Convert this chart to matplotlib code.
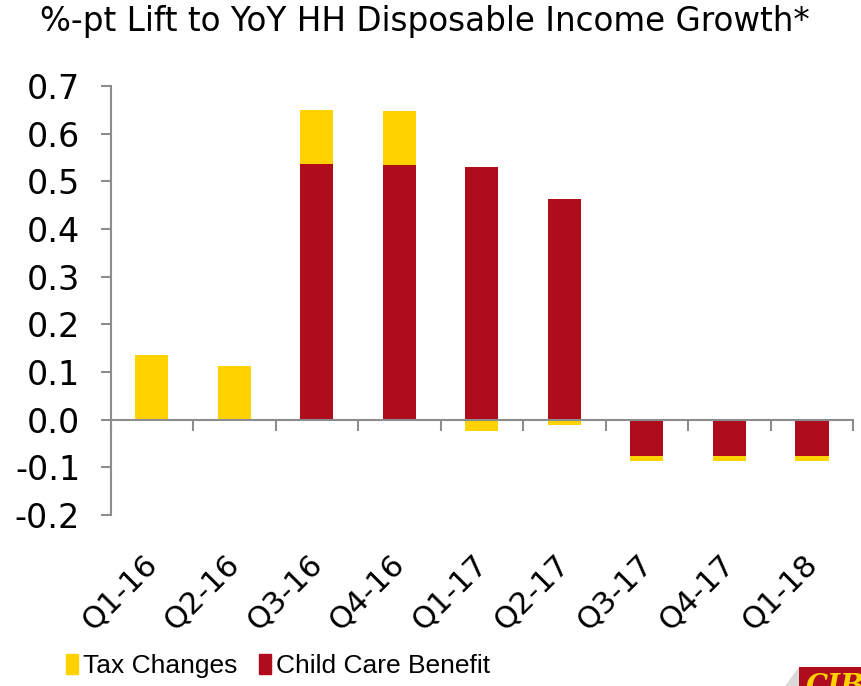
import numpy as np
import matplotlib.pyplot as plt
from matplotlib.patches import Patch, Rectangle, Polygon
from matplotlib.transforms import ScaledTranslation

# values
quarters = ["Q1-16", "Q2-16", "Q3-16", "Q4-16", "Q1-17", "Q2-17", "Q3-17", "Q4-17", "Q1-18"]
child_care = [0.0, 0.0, 0.537, 0.534, 0.531, 0.464, -0.076, -0.076, -0.076]
tax_changes = [0.135, 0.112, 0.113, 0.113, -0.023, -0.011, -0.011, -0.011, -0.011]
y_ticks = [-0.2, -0.1, 0.0, 0.1, 0.2, 0.3, 0.4, 0.5, 0.6, 0.7]

yellow = "#FFD200"
red = "#AF0D1E"
grey = "#8C8C8C"

fig = plt.figure(figsize=(8.61, 6.86), dpi=100)
ax = fig.add_axes([0.1286, 0.2493, 0.8624, 0.6253])

x = np.arange(len(quarters))
cc = np.array(child_care)
tx = np.array(tax_changes)

# child care drawn from zero; tax stacked on the same side
ax.bar(x, cc, width=0.4, color=red, zorder=2)
tax_bottom = np.where(np.sign(tx) == np.sign(cc), cc, 0.0)
ax.bar(x, tx, width=0.4, bottom=tax_bottom, color=yellow, zorder=2)

ax.set_xlim(-0.5, len(quarters) - 0.5)
ax.set_ylim(-0.2, 0.7)
ax.set_yticks(y_ticks)
ax.set_yticklabels([f"{v:.1f}" for v in y_ticks])
ax.tick_params(axis="y", labelsize=24, length=7, width=1.5, color=grey, pad=15)

# x axis sits on zero, ticks at category boundaries
for s in ["top", "right"]:
    ax.spines[s].set_visible(False)
ax.spines["left"].set_color(grey)
ax.spines["left"].set_linewidth(1.5)
ax.spines["bottom"].set_position(("data", 0))
ax.spines["bottom"].set_color(grey)
ax.spines["bottom"].set_linewidth(1.5)
ax.set_xticks(np.arange(-0.5, len(quarters), 1.0))
ax.set_xticklabels([])
ax.tick_params(axis="x", length=8, width=1.5, color=grey, direction="out")

# category labels below the plot area
lab_tr = ax.get_xaxis_transform() + ScaledTranslation(-0.10, -0.34, fig.dpi_scale_trans)
for i, q in enumerate(quarters):
    ax.text(i, 0, q, transform=lab_tr, rotation=45, ha="right", va="top",
            rotation_mode="anchor", fontsize=22)

fig.text(0.494, 0.968, "%-pt Lift to YoY HH Disposable Income Growth*",
         ha="center", va="center", fontsize=23.5)

handles = [Patch(color=yellow, label="Tax Changes"),
           Patch(color=red, label="Child Care Benefit")]
fig.legend(handles=handles, loc="center left", bbox_to_anchor=(66 / 861, 1 - 666 / 686),
           ncol=2, frameon=False, borderpad=0, borderaxespad=0,
           prop={"family": "Liberation Sans", "size": 19},
           handlelength=0.45, handleheight=0.8, handletextpad=0.2, columnspacing=0.8)

# corner logo, mostly cut off
fig.patches.append(Polygon([(785 / 861, 0), (799 / 861, 19 / 686), (799 / 861, 0)],
                           closed=True, transform=fig.transFigure,
                           facecolor="#DADADA", edgecolor="none"))
fig.patches.append(Rectangle((799 / 861, 0), 62 / 861, 19 / 686, transform=fig.transFigure,
                             facecolor=red, edgecolor="none"))
fig.text(806 / 861, 1 - 673 / 686, "CIB", color=yellow, fontsize=20, fontweight="bold",
         style="italic", family="DejaVu Serif", va="top")

fig.savefig("out.png", dpi=100)
